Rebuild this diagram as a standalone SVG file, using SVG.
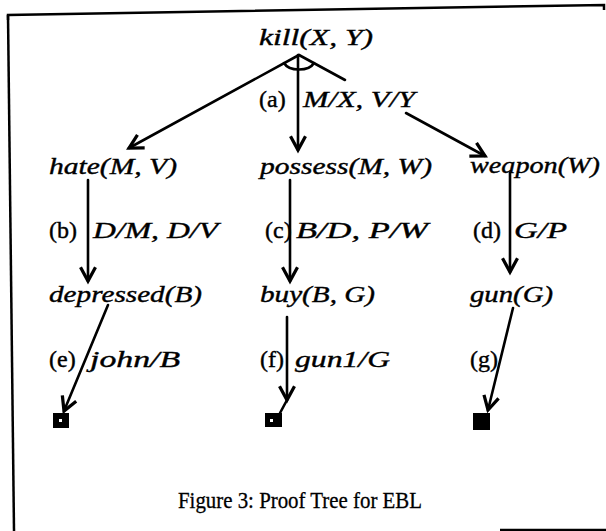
<svg xmlns="http://www.w3.org/2000/svg" width="606" height="531" viewBox="0 0 606 531">
<defs>
<style>
.m{font-family:"Liberation Serif","DejaVu Serif",serif;font-style:italic;font-size:24px;fill:#000;stroke:#000;stroke-width:0.4}
.r{font-family:"Liberation Serif","DejaVu Serif",serif;font-style:normal;font-size:24px;fill:#000;stroke:#000;stroke-width:0.4}
.cap{font-family:"Liberation Serif","DejaVu Serif",serif;font-style:normal;font-size:23px;fill:#000;stroke:#000;stroke-width:0.3}
.c{stroke:#000;stroke-width:2.6;fill:none;stroke-linecap:round}
.b{stroke:#000;stroke-width:2.5;fill:none}
</style>
<marker id="ah" markerWidth="20" markerHeight="20" refX="0" refY="0" viewBox="-12 -8 14 16" orient="auto" markerUnits="userSpaceOnUse">
<path d="M-11,-6 L0,0 L-11,6" fill="none" stroke="#000" stroke-width="2.6" stroke-linejoin="miter"/>
</marker>
</defs>
<rect width="606" height="531" fill="#fff"/>
<g id="frame">
<path class="b" d="M8,20 L8,15 L604,5 L604,10"/>
<path class="b" d="M8,15 L14,531"/>
<path class="b" d="M500,530 L606,530"/>
</g>
<g id="connectors">
<path class="c" d="M299,55 L129,148" marker-end="url(#ah)"/>
<path class="c" d="M299,55 L345,80"/>
<path class="c" d="M406,113 L485,156" marker-end="url(#ah)"/>
<path class="c" d="M298,55 L298,150" marker-end="url(#ah)"/>
<path class="c" d="M284,63 A16,10 0 0 0 314,63"/>
<path class="c" d="M88,180 L88,281" marker-end="url(#ah)"/>
<path class="c" d="M290,180 L290,281" marker-end="url(#ah)"/>
<path class="c" d="M510,173 L510,272" marker-end="url(#ah)"/>
<path class="c" d="M108,305 L64,411" marker-end="url(#ah)"/>
<path class="c" d="M287,317 L287,400" marker-end="url(#ah)"/>
<path class="c" d="M287,400 L280,413"/>
<path class="c" d="M513,308 L488,410" marker-end="url(#ah)"/>
</g>
<g id="kill"><text class="m" x="259" y="45" textLength="114" lengthAdjust="spacingAndGlyphs">kill(X, Y)</text></g>
<g id="label-a"><text class="r" x="259" y="107">(a)</text><text class="m" x="303" y="107" textLength="112" lengthAdjust="spacingAndGlyphs">M/X, V/Y</text></g>
<g id="hate"><text class="m" x="49" y="174" textLength="128" lengthAdjust="spacingAndGlyphs">hate(M, V)</text></g>
<g id="possess"><text class="m" x="260" y="174" textLength="172" lengthAdjust="spacingAndGlyphs">possess(M, W)</text></g>
<g id="weapon"><text class="m" x="470" y="173" textLength="130" lengthAdjust="spacingAndGlyphs">weapon(W)</text></g>
<g id="label-b"><text class="r" x="49" y="238">(b)</text><text class="m" x="93" y="238" textLength="125" lengthAdjust="spacingAndGlyphs">D/M, D/V</text></g>
<g id="label-c"><text class="r" x="265" y="238">(c)</text><text class="m" x="296" y="238" textLength="132" lengthAdjust="spacingAndGlyphs">B/D, P/W</text></g>
<g id="label-d"><text class="r" x="473" y="238">(d)</text><text class="m" x="514" y="238" textLength="53" lengthAdjust="spacingAndGlyphs">G/P</text></g>
<g id="depressed"><text class="m" x="49" y="302" textLength="153" lengthAdjust="spacingAndGlyphs">depressed(B)</text></g>
<g id="buy"><text class="m" x="260" y="302" textLength="115" lengthAdjust="spacingAndGlyphs">buy(B, G)</text></g>
<g id="gun"><text class="m" x="470" y="302" textLength="83" lengthAdjust="spacingAndGlyphs">gun(G)</text></g>
<g id="label-e"><text class="r" x="49" y="367">(e)</text><text class="m" x="90" y="367" textLength="90" lengthAdjust="spacingAndGlyphs">john/B</text></g>
<g id="label-f"><text class="r" x="260" y="367">(f)</text><text class="m" x="295" y="367" textLength="95" lengthAdjust="spacingAndGlyphs">gun1/G</text></g>
<g id="label-g"><text class="r" x="470" y="367">(g)</text></g>
<g id="leaf-e"><rect x="53" y="413" width="16" height="15" fill="#000"/><rect x="59" y="419" width="3" height="3" fill="#fff"/></g>
<g id="leaf-f"><rect x="265" y="413" width="17" height="14" fill="#000"/><rect x="270" y="419" width="3" height="3" fill="#fff"/></g>
<g id="leaf-g"><rect x="473" y="413" width="17" height="17" fill="#000"/></g>
<g id="caption"><text class="cap" x="178" y="508" textLength="244" lengthAdjust="spacingAndGlyphs">Figure 3: Proof Tree for EBL</text></g>
</svg>
